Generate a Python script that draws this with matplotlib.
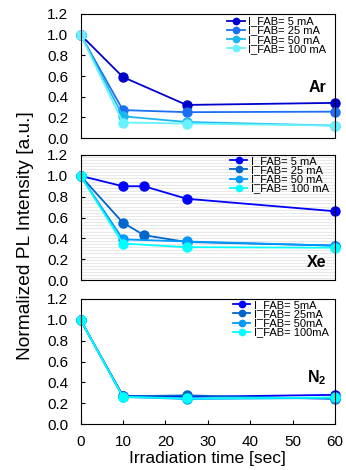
import numpy as np
import matplotlib
matplotlib.use("Agg")
import matplotlib.pyplot as plt

plt.rcParams['font.family'] = ['Liberation Sans', 'DejaVu Sans']
plt.rcParams['mathtext.fontset'] = 'custom'
plt.rcParams['mathtext.rm'] = 'Liberation Sans'
plt.rcParams['mathtext.bf'] = 'Liberation Sans:bold'

# data
t = [0, 10, 25, 60]
t_xe5 = [0, 10, 15, 25, 60]
t_xe25 = [0, 10, 15, 25, 60]

ar_labels = ['I_FAB= 5 mA', 'I_FAB= 25 mA', 'I_FAB= 50 mA', 'I_FAB= 100 mA']
ar_5 = [1.0, 0.59, 0.32, 0.34]
ar_25 = [1.0, 0.27, 0.25, 0.255]
ar_50 = [1.0, 0.21, 0.155, 0.12]
ar_100 = [1.0, 0.15, 0.14, 0.12]

xe_labels = ['I_FAB= 5 mA', 'I_FAB= 25 mA', 'I_FAB= 50 mA', 'I_FAB= 100 mA']
xe_5 = [1.0, 0.90, 0.90, 0.78, 0.66]
xe_25 = [1.0, 0.55, 0.43, 0.365, 0.33]
xe_50 = [1.0, 0.39, 0.37, 0.33]
xe_100 = [1.0, 0.35, 0.315, 0.31]

n2_labels = ['I_FAB= 5mA', 'I_FAB= 25mA', 'I_FAB= 50mA', 'I_FAB= 100mA']
n2_5 = [1.0, 0.27, 0.26, 0.28]
n2_25 = [1.0, 0.265, 0.275, 0.24]
n2_50 = [1.0, 0.26, 0.24, 0.25]
n2_100 = [1.0, 0.26, 0.245, 0.255]

ar_colors = ['#0000CC', '#1C6EF2', '#1AB8EE', '#66F2FF']
xe_colors = ['#0000FF', '#0066CC', '#0099FF', '#00FFFF']

fig = plt.figure(figsize=(3.46, 4.70), dpi=100)
W, H = 346.0, 470.0
x0, x1 = 80.5, 335
panels = [(14, 138), (155, 280), (299, 424)]
axes = []
for top, bot in panels:
    ax = fig.add_axes([x0 / W, 1 - bot / H, (x1 - x0) / W, (bot - top) / H])
    axes.append(ax)

ax_ar, ax_xe, ax_n2 = axes

for ys, c, lab in zip([ar_5, ar_25, ar_50, ar_100], ar_colors, ar_labels):
    ax_ar.plot(t, ys, '-o', color=c, lw=1.3, ms=6.5, label=lab, clip_on=False)

ax_xe.plot(t_xe5, xe_5, '-o', color=xe_colors[0], lw=1.3, ms=6.5, label=xe_labels[0], clip_on=False)
ax_xe.plot(t_xe25, xe_25, '-o', color=xe_colors[1], lw=1.3, ms=6.5, label=xe_labels[1], clip_on=False)
ax_xe.plot(t, xe_50, '-o', color=xe_colors[2], lw=1.3, ms=6.5, label=xe_labels[2], clip_on=False)
ax_xe.plot(t, xe_100, '-o', color=xe_colors[3], lw=1.3, ms=6.5, label=xe_labels[3], clip_on=False)
for yy in np.arange(0.015, 1.2, 0.03):
    ax_xe.axhline(yy, color='#e8e8e8', lw=0.8, zorder=0)

for ys, c, lab in zip([n2_5, n2_25, n2_50, n2_100], xe_colors, n2_labels):
    ax_n2.plot(t, ys, '-o', color=c, lw=1.3, ms=6.5, label=lab, clip_on=False)

leg_pos = [(0.576, 0.98), (0.586, 0.99), (0.598, 0.99)]
name_y = [0.41, 0.14, 0.37]
for ax, name, lp, ny in zip(axes, ['Ar', 'Xe', r'$\mathbf{N_2}$'], leg_pos, name_y):
    ax.set_xlim(0, 60)
    ax.set_ylim(0, 1.2)
    ax.set_yticks(np.arange(0, 1.21, 0.2))
    ax.set_yticklabels(['%.1f' % v for v in np.arange(0, 1.21, 0.2)])
    ax.tick_params(axis='y', labelsize=11, direction='in', length=3, pad=9)
    ax.tick_params(axis='x', direction='in', length=3)
    for s in ax.spines.values():
        s.set_linewidth(0.8)
    ax.legend(loc='upper left', bbox_to_anchor=lp, frameon=False,
              fontsize=8, handlelength=1.6, handletextpad=0.3,
              labelspacing=-0.08, markerscale=0.7, borderpad=0, borderaxespad=0)
    ax.text(0.965, ny, name, transform=ax.transAxes,
            ha='right', va='center', fontsize=11.5, fontweight='bold')

ax_ar.set_xticks([])
ax_xe.set_xticks([])
ax_n2.set_xticks(np.arange(0, 61, 10))
ax_n2.tick_params(axis='x', labelsize=11, pad=8)
ax_n2.set_xlabel('Irradiation time [sec]', fontsize=12.5, labelpad=1)

fig.text(25 / W, 1 - 236 / H, 'Normalized PL Intensity [a.u.]', rotation=90,
         ha='center', va='center', fontsize=13.8)

fig.savefig('out.png', dpi=100)
